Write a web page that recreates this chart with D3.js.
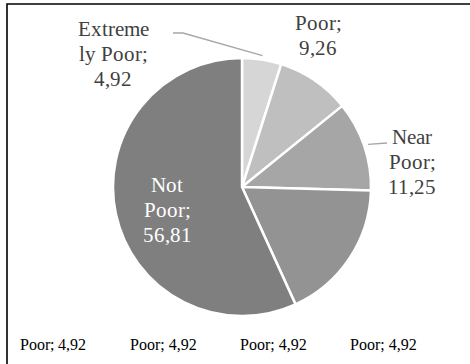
<html>
<head>
<style>
@font-face{font-family:'LabelSerif';src:local('Liberation Serif'),local('LiberationSerif'),local('LiberationSerif-Regular'),local('Times New Roman');}
</style>
</head>
<body style="margin:0;background:#fff;">
<svg id="graph" width="470" height="364"></svg>
<script src="https://d3js.org/d3.v7.min.js"></script>
<script>
// poverty categories, share of population (%)
var categories = ["Extremely Poor","Poor","Near Poor","Vulnerable","Not Poor"];
var values = [4.92, 9.26, 11.25, 17.76, 56.81];
// label text as wrapped in the chart (value line added below), null = not shown
var labelLines = [["Extreme","ly Poor;"],["Poor;"],["Near","Poor;"],null,["Not","Poor;"]];

var colors = ['#d6d6d6','#bfbfbf','#a6a6a6','#939393','#7f7f7f'];
// label placement relative to pie centre: [x, first baseline]
var labelAt = [[-129,-151],[76,-157],[170,-43],null,[-75,5]];
// leader line elbows relative to pie centre (null = no leader)
var leaders = [[[-59,-154],[-69,-154]],null,[[145,-44]],null,null];

var svg = d3.select('#graph');
var cx = 242, cy = 187, R = 129;
var lineH = 25;

// frame, cropped like the original
svg.append('path')
	.attr('d','M7,364V4H470')
	.attr('fill','none')
	.attr('stroke','#000')
	.attr('stroke-width',1.6);

var pie = d3.pie().sort(null).value(function(d){return d;});
var arcs = pie(values);
var arc = d3.arc().innerRadius(0).outerRadius(R);

var g = svg.append('g').attr('transform','translate('+cx+','+cy+')');

g.selectAll('path.slice')
	.data(arcs)
	.enter()
	.append('path')
	.attr('class','slice')
	.attr('d',arc)
	.attr('fill',function(d,i){return colors[i];})
	.attr('stroke','#fff')
	.attr('stroke-width',2.5)
	.attr('stroke-linejoin','miter');

// leader lines
arcs.forEach(function(d,i){
	if(!leaders[i])return;
	var a = (d.startAngle+d.endAngle)/2;
	var p0 = [Math.sin(a)*(R+4), -Math.cos(a)*(R+4)];
	var pts = [p0].concat(leaders[i]);
	g.append('path')
		.attr('d',d3.line()(pts))
		.attr('fill','none')
		.attr('stroke','#a6a6a6')
		.attr('stroke-width',1.3);
});

var fmt = function(v){return d3.format('.2f')(v).replace('.',',');};

arcs.forEach(function(d,i){
	if(!labelLines[i])return;
	var lines = labelLines[i].concat([fmt(values[i])]);
	lines.forEach(function(s,k){
		svg.append('text')
			.attr('x',cx+labelAt[i][0])
			.attr('y',cy+labelAt[i][1]+k*lineH)
			.attr('text-anchor','middle')
			.attr('font-family','LabelSerif')
			.attr('font-size',21)
			.attr('fill',i==4?'#fff':'#404040')
			.text(s);
	});
});

// temporary font probe
['LabelSerif','Tinos','Times','serif'].forEach(function(f,i){
	svg.append('text').attr('x',20+i*110).attr('y',350)
		.attr('font-family',f).attr('font-size',16).text('Poor; 4,92');
});
</script>
</body>
</html>
